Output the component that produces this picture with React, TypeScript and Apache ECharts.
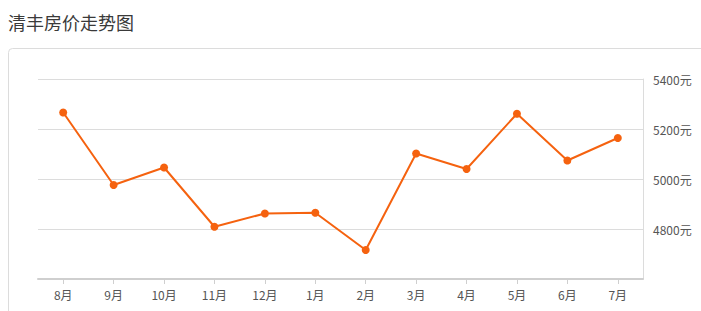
import React, { useEffect, useRef } from "react";
import * as echarts from "echarts";

const titleText = "清丰房价走势图";
const months = ["8月", "9月", "10月", "11月", "12月", "1月", "2月", "3月", "4月", "5月", "6月", "7月"];
const prices = [5266, 4976, 5046, 4809, 4862, 4865, 4716, 5102, 5040, 5261, 5074, 5164];
const yMin = 4600;
const yMax = 5400;
const yStep = 200;
const unit = "元";

const FONT = "'Microsoft YaHei', 'Noto Sans CJK SC', sans-serif";

export default function App() {
  const ref = useRef<HTMLDivElement>(null);
  useEffect(() => {
    if (!ref.current) return;
    const chart = echarts.init(ref.current, null, { renderer: "svg" });
    chart.setOption({
      animation: false,
      backgroundColor: "#fff",
      title: {
        text: titleText,
        left: 3,
        top: 8,
        textStyle: { fontSize: 18, fontWeight: "normal", color: "#3a3a3a", fontFamily: FONT },
      },
      graphic: [
        {
          type: "rect",
          shape: { x: 8.5, y: 48.5, width: 760, height: 320, r: 4 },
          style: { fill: "none", stroke: "#dcdcdc", lineWidth: 1 },
          silent: true,
          z: -1,
        },
      ],
      grid: { left: 38, right: 58, top: 79, bottom: 32 },
      xAxis: {
        type: "category",
        data: months,
        boundaryGap: true,
        axisLine: { show: true, lineStyle: { color: "#cfcfcf", width: 2 } },
        axisTick: { show: true, alignWithLabel: true, length: 5, lineStyle: { color: "#cfcfcf" } },
        axisLabel: { color: "#555", fontSize: 12, margin: 9, fontFamily: FONT },
        splitLine: { show: false },
      },
      yAxis: {
        type: "value",
        position: "right",
        min: yMin,
        max: yMax,
        interval: yStep,
        axisLine: { show: true, lineStyle: { color: "#dcdcdc", width: 1 } },
        axisTick: { show: false },
        axisLabel: {
          color: "#555",
          fontSize: 12,
          margin: 10,
          fontFamily: FONT,
          showMinLabel: false,
          formatter: (v: number) => v + unit,
        },
        splitLine: { show: true, lineStyle: { color: "#dcdcdc", width: 1 } },
      },
      series: [
        {
          type: "line",
          data: prices,
          symbol: "circle",
          symbolSize: 8,
          itemStyle: { color: "#f5620f" },
          lineStyle: { color: "#f5620f", width: 2 },
        },
      ],
    });
    return () => chart.dispose();
  }, []);
  return (
    <div
      ref={ref}
      style={{ position: "fixed", left: 0, top: 0, width: 701, height: 311, background: "#fff" }}
    />
  );
}
